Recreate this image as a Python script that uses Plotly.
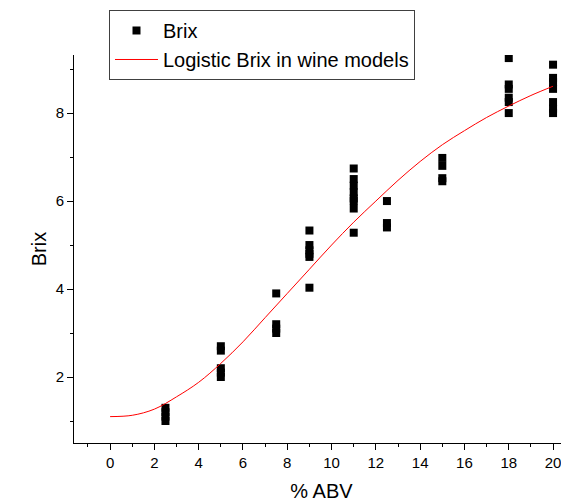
import plotly.graph_objects as go

# Measured data (Brix vs % ABV)
abv = ([2.5] * 4 + [5] * 5 + [7.5] * 4 + [9] * 6 + [11] * 8 + [12.5] * 3
       + [15] * 4 + [18] * 6 + [20] * 7)
brix = [1.0, 1.1, 1.2, 1.3,
        2.7, 2.6, 2.2, 2.1, 2.0,
        3.9, 3.2, 3.1, 3.0,
        5.33, 5.0, 4.88, 4.8, 4.73, 4.03,
        6.74, 6.5, 6.35, 6.2, 6.06, 6.0, 5.83, 5.28,
        6.0, 5.5, 5.4,
        6.98, 6.8, 6.52, 6.45,
        9.25, 8.65, 8.55, 8.35, 8.25, 8.0,
        9.1, 8.8, 8.7, 8.55, 8.25, 8.1, 8.0]

# Fitted logistic curve
fit_x = [0, 1, 2, 3, 4, 5, 6, 7, 8, 9, 10, 11, 12, 13, 14, 15, 16, 17, 18, 19, 20]
fit_y = [1.10, 1.13, 1.27, 1.55, 1.88, 2.31, 2.80, 3.35, 3.90, 4.45, 5.00, 5.52,
         6.00, 6.47, 6.90, 7.28, 7.60, 7.90, 8.16, 8.40, 8.61]

x_ticks = [0, 2, 4, 6, 8, 10, 12, 14, 16, 18, 20]
y_ticks = [2, 4, 6, 8]

FONT = "Arial, Liberation Sans, sans-serif"

fig = go.Figure()
fig.add_trace(go.Scatter(
    x=abv, y=brix, mode="markers", name="Brix",
    marker=dict(symbol="square", size=8, color="black", line=dict(width=0)),
))
fig.add_trace(go.Scatter(
    x=fit_x, y=fit_y, mode="lines", name="Logistic Brix in wine models",
    line=dict(color="red", width=1, shape="spline"),
))

axis_common = dict(
    showgrid=False, zeroline=False, showline=True, linecolor="black", linewidth=1,
    ticks="outside", ticklen=6, tickwidth=1, tickcolor="black",
    tickfont=dict(family=FONT, size=15, color="black"),
    mirror=False, automargin=False,
)

fig.update_layout(
    width=569, height=502,
    margin=dict(l=66, r=8, t=47, b=67, autoexpand=False),
    paper_bgcolor="white", plot_bgcolor="white",
    font=dict(family=FONT, color="black"),
    xaxis=dict(
        range=[-1.63, 20.72], tickvals=x_ticks,
        minor=dict(dtick=1, tick0=0, ticks="outside", ticklen=3, tickcolor="black"),
        title=dict(text="% ABV", font=dict(family=FONT, size=20), standoff=13),
        **axis_common,
    ),
    yaxis=dict(
        range=[0.5, 9.32], tickvals=y_ticks,
        minor=dict(dtick=1, tick0=0, ticks="outside", ticklen=3, tickcolor="black"),
        title=dict(text="Brix", font=dict(family=FONT, size=20), standoff=3),
        **axis_common,
    ),
    legend=dict(
        x=0.0707, y=1.116, xanchor="left", yanchor="top",
        bordercolor="#404040", borderwidth=1, bgcolor="white",
        font=dict(family=FONT, size=20, color="black"),
        tracegroupgap=0, itemwidth=43,
    ),
    showlegend=True,
)

fig.write_html("out.html")
